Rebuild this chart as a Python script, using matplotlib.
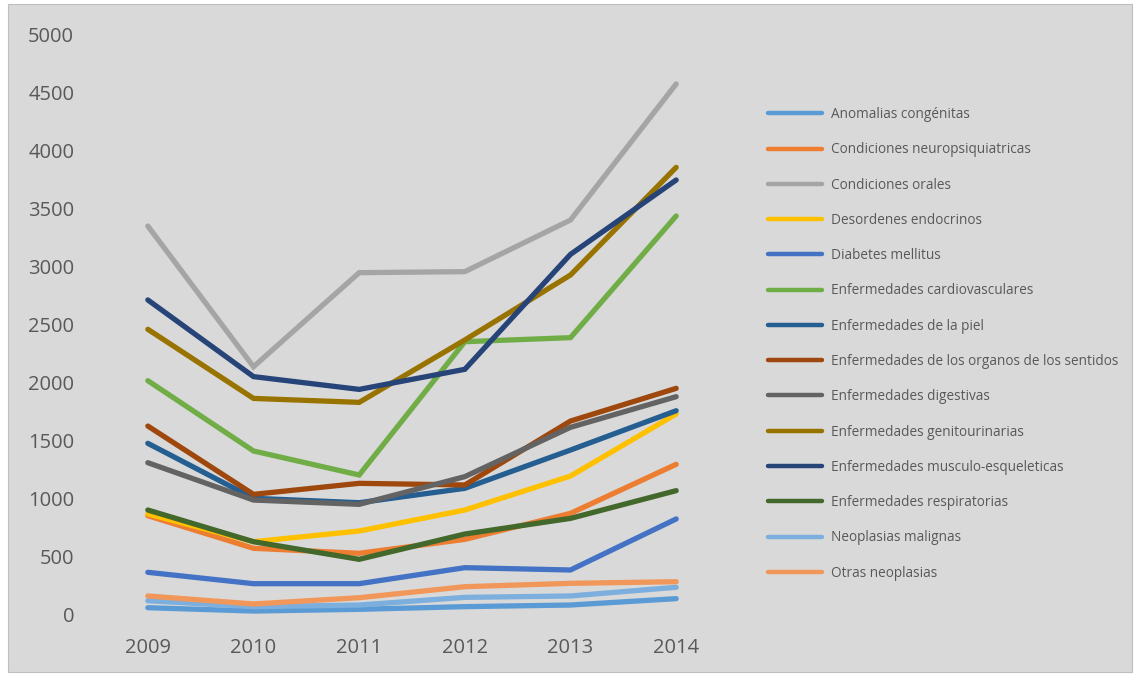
import matplotlib
matplotlib.use("Agg")
import matplotlib.pyplot as plt
from matplotlib.patches import Rectangle

years = ["2009", "2010", "2011", "2012", "2013", "2014"]

anomalias = [63, 34, 49, 72, 86, 141]
neuropsiquiatricas = [856, 575, 532, 652, 876, 1299]
orales = [3353, 2140, 2951, 2960, 3405, 4578]
endocrinos = [871, 632, 724, 905, 1198, 1733]
diabetes = [368, 270, 270, 408, 388, 828]
cardiovasculares = [2020, 1414, 1207, 2356, 2391, 3440]
piel = [1480, 1006, 968, 1092, 1422, 1761]
organos_sentidos = [1629, 1040, 1135, 1121, 1672, 1954]
digestivas = [1313, 991, 954, 1193, 1618, 1882]
genitourinarias = [2463, 1867, 1833, 2371, 2931, 3859]
musculo = [2716, 2055, 1945, 2118, 3109, 3750]
respiratorias = [905, 632, 480, 698, 833, 1072]
neo_malignas = [123, 72, 86, 152, 164, 239]
otras_neo = [164, 95, 149, 244, 273, 287]

labels = [
    "Anomalias congénitas",
    "Condiciones neuropsiquiatricas",
    "Condiciones orales",
    "Desordenes endocrinos",
    "Diabetes mellitus",
    "Enfermedades cardiovasculares",
    "Enfermedades de la piel",
    "Enfermedades de los organos de los sentidos",
    "Enfermedades digestivas",
    "Enfermedades genitourinarias",
    "Enfermedades musculo-esqueleticas",
    "Enfermedades respiratorias",
    "Neoplasias malignas",
    "Otras neoplasias",
]
series = [anomalias, neuropsiquiatricas, orales, endocrinos, diabetes,
          cardiovasculares, piel, organos_sentidos, digestivas,
          genitourinarias, musculo, respiratorias, neo_malignas, otras_neo]
colors = ["#5B9BD5", "#ED7D31", "#A5A5A5", "#FFC000", "#4472C4", "#70AD47",
          "#255E91", "#9E480E", "#636363", "#997300", "#264478", "#43682B",
          "#7CAFDD", "#F1975A"]

plt.rcParams["font.family"] = ["Open Sans", "DejaVu Sans"]
text_color = "#595959"
bg = "#D9D9D9"

fig = plt.figure(figsize=(11.4, 6.75), dpi=100, facecolor="white")
# chart area background with thin border
fig.patches.append(Rectangle((8 / 1140, 3 / 675), 1124 / 1140, 668 / 675,
                             transform=fig.transFigure, facecolor=bg,
                             edgecolor="#BFBFBF", linewidth=0.8, zorder=-5))

ax = fig.add_axes([95 / 1140, 60 / 675, 634 / 1140, 580 / 675])
ax.patch.set_alpha(0)

x = list(range(len(years)))
for label, vals, c in zip(labels, series, colors):
    ax.plot(x, vals, color=c, linewidth=3.8, label=label,
            solid_capstyle="round", solid_joinstyle="miter")

ax.set_xlim(-0.5, len(years) - 0.5)
ax.set_ylim(0, 5000)
ax.set_yticks(range(0, 5001, 500))
ax.set_xticks(x)
ax.set_xticklabels(years)
for s in ax.spines.values():
    s.set_visible(False)
ax.tick_params(axis="both", length=0, labelsize=14.5, colors=text_color)
ax.tick_params(axis="y", pad=15)
ax.tick_params(axis="x", pad=16.5)

leg = ax.legend(loc="upper left", bbox_to_anchor=(768 / 1140, 1 - 107 / 675),
                bbox_transform=fig.transFigure, frameon=False, fontsize=9.8,
                handlelength=4.0, handletextpad=0.6, labelspacing=1.49,
                borderpad=0, borderaxespad=0)
for t in leg.get_texts():
    t.set_color(text_color)
for h in leg.get_lines():
    h.set_linewidth(3.2)

fig.savefig("out.png", dpi=100, facecolor="white")
